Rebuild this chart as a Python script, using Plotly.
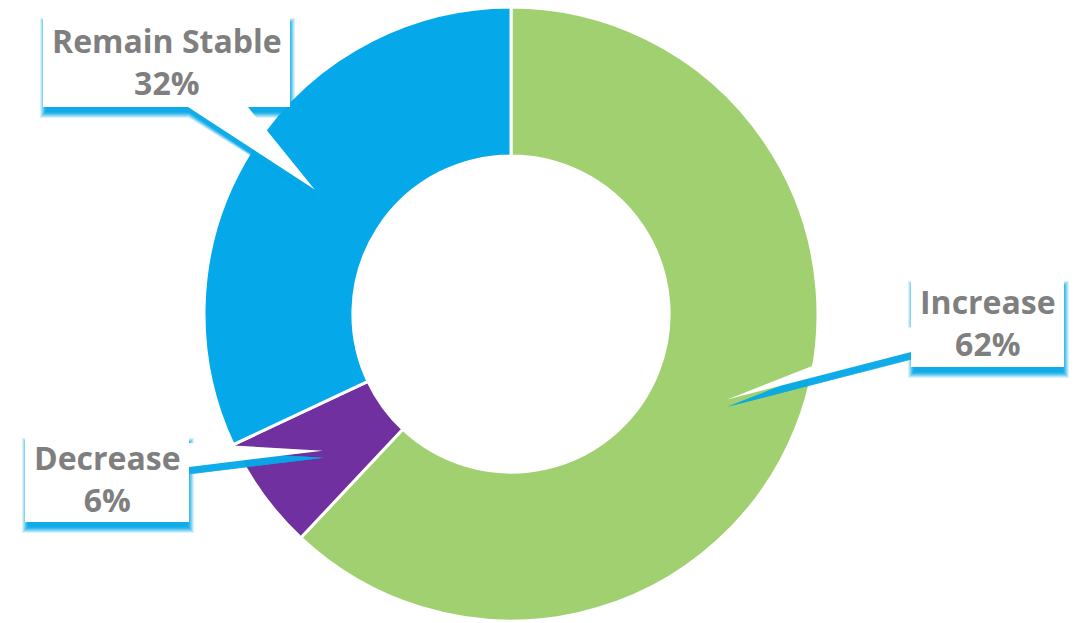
import math
import plotly.graph_objects as go

# ---- data ----
categories = ["Increase", "Decrease", "Remain Stable"]
values = [62, 6, 32]
slice_colors = ["#A0D070", "#7030A0", "#05A9E9"]

W, H = 1076, 623
CX, CY, R_OUT = 511, 314, 307
HOLE = 0.515
SHADOW = "#06A8E8"

# callout boxes (pixel layout): x0, y0, x1, y1, pointer side, pointer base (a, b)
boxes = {
    "Remain Stable": (43, 15, 290, 107, "bottom", (188, 248)),
    "Increase": (911, 278, 1064, 367, "left", (327, 352)),
    "Decrease": (25, 435, 189, 522, "right", (443, 467)),
}


def px(x):
    return x / W


def py(y):
    return 1 - y / H


def tip_for(i):
    start = sum(values[:i])
    mid = (start + values[i] / 2) / sum(values)
    th = 2 * math.pi * mid
    r = R_OUT * (1 + HOLE) / 2
    return CX + r * math.sin(th), CY - r * math.cos(th)


def callout_path(box, tip, dx=0.0, dy=0.0, grow=0.0):
    x0, y0, x1, y1, side, (a, b) = box
    x0 -= grow; y0 -= grow; x1 += grow; y1 += grow
    tx, ty = tip
    if side == "bottom":
        pts = [(x0, y0), (x1, y0), (x1, y1), (b, y1), (tx, ty), (a, y1), (x0, y1)]
    elif side == "left":
        pts = [(x0, y0), (x1, y0), (x1, y1), (x0, y1), (x0, b), (tx, ty), (x0, a)]
    else:
        pts = [(x0, y0), (x1, y0), (x1, a), (tx, ty), (x1, b), (x1, y1), (x0, y1)]
    s = "M " + " L ".join(f"{px(x + dx):.5f} {py(y + dy):.5f}" for x, y in pts) + " Z"
    return s


fig = go.Figure()
fig.add_trace(go.Pie(
    labels=categories,
    values=values,
    sort=False,
    direction="clockwise",
    rotation=0,
    hole=HOLE,
    marker=dict(colors=slice_colors, line=dict(color="white", width=3)),
    textinfo="none",
    hoverinfo="label+percent",
    showlegend=False,
    domain=dict(x=[px(CX - R_OUT), px(CX + R_OUT)], y=[py(CY + R_OUT), py(CY - R_OUT)]),
))

shapes = []
annotations = []
for i, cat in enumerate(categories):
    box = boxes[cat]
    tip = tip_for(i)
    # soft (blurred) shadow: stacked translucent layers
    for g, op in [(4, 0.15), (3, 0.2), (2, 0.25), (1, 0.3), (0, 0.4), (-1, 0.5), (-2, 0.6)]:
        shapes.append(dict(type="path", xref="paper", yref="paper",
                           path=callout_path(box, tip, dx=1, dy=7, grow=g),
                           fillcolor=SHADOW, opacity=op, line=dict(width=0), layer="above"))
    shapes.append(dict(type="path", xref="paper", yref="paper",
                       path=callout_path(box, tip),
                       fillcolor="white", line=dict(width=0), layer="above"))
    x0, y0, x1, y1 = box[:4]
    annotations.append(dict(
        xref="paper", yref="paper", x=px((x0 + x1) / 2), y=py((y0 + y1) / 2),
        xanchor="center", yanchor="middle", showarrow=False,
        text=f"{cat}<br>{values[i]}%",
        font=dict(family="Open Sans", size=32, color="#7F7F7F", weight="bold"),
    ))

fig.update_layout(
    width=W, height=H,
    margin=dict(l=0, r=0, t=0, b=0),
    paper_bgcolor="white",
    plot_bgcolor="white",
    shapes=shapes,
    annotations=annotations,
)

fig.write_html("out.html", config={"displayModeBar": False},
               post_script="document.body.style.margin='0';document.body.style.padding='0';")
